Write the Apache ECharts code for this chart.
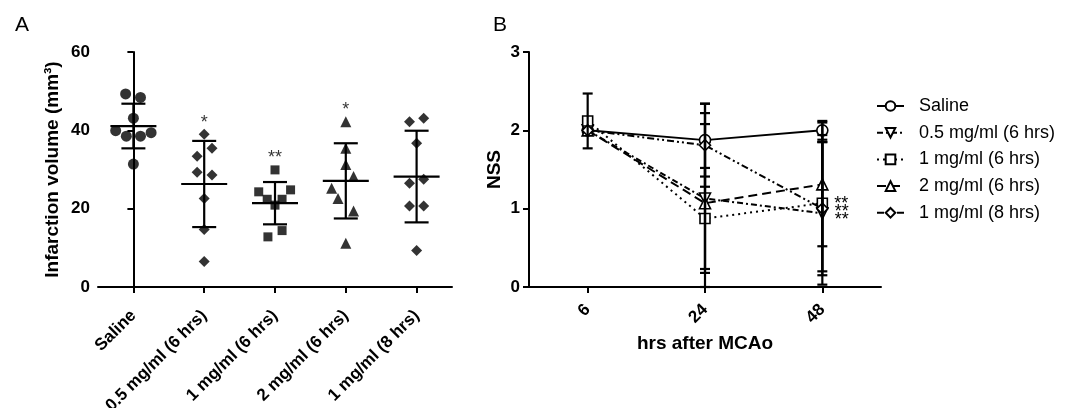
<!DOCTYPE html>
<html><head><meta charset="utf-8">
<script src="https://cdn.jsdelivr.net/npm/echarts@6/dist/echarts.min.js"></script>
<style>html,body{margin:0;padding:0;background:#fff}#c{width:1081px;height:408px}</style>
</head><body><div id="c"></div>
<script>
// ---------- Panel A data ----------
const groupsA = ['Saline', '0.5 mg/ml (6 hrs)', '1 mg/ml (6 hrs)', '2 mg/ml (6 hrs)', '1 mg/ml (8 hrs)'];
const volSaline = [49.3, 48.4, 43.1, 39.9, 38.5, 38.5, 39.4, 31.4];
const jitSaline = [-0.11, 0.1, 0, -0.25, -0.1, 0.1, 0.25, 0];
const vol05 = [39.0, 33.4, 35.4, 29.3, 28.6, 22.6, 14.7, 6.5];
const jit05 = [0, -0.1, 0.11, -0.1, 0.11, 0, 0, 0];
const vol1 = [29.9, 24.3, 24.8, 22.4, 22.4, 20.9, 12.8, 14.4];
const jit1 = [0, -0.23, 0.22, -0.11, 0.1, 0, -0.1, 0.1];
const vol2 = [42.2, 35.4, 31.3, 28.2, 25.2, 22.6, 19.4, 11.2];
const jit2 = [0, 0, 0, 0.11, -0.2, -0.11, 0.11, 0];
const vol8 = [42.2, 43.1, 36.7, 26.5, 27.5, 20.7, 20.7, 9.3];
const jit8 = [-0.1, 0.1, 0, -0.1, 0.1, -0.1, 0.1, 0];
const meanA = [41.1, 26.3, 21.4, 27.1, 28.2];
const sdA = [5.7, 11.0, 5.4, 9.6, 11.7];
const sigA = ['', '*', '**', '*', ''];
const yTicksA = [0, 20, 40, 60];

// ---------- Panel B data ----------
const timesB = ['6', '24', '48'];
const groupsB = ['Saline', '0.5 mg/ml (6 hrs)', '1 mg/ml (6 hrs)', '2 mg/ml (6 hrs)', '1 mg/ml (8 hrs)'];
const nssSaline = [2.0, 1.875, 2.0];
const sdSaline = [0, 0.465, 0.12];
const nss05 = [2.0, 1.13, 0.94];
const sd05 = [0, 0.95, 0.91];
const nss1 = [2.12, 0.875, 1.07];
const sd1 = [0.35, 0.645, 0.87];
const nss2 = [2.0, 1.07, 1.31];
const sd2 = [0, 1.15, 0.79];
const nss8 = [2.0, 1.81, 1.0];
const sd8 = [0, 0.53, 0.85];
const sigB05 = ['', '', '**'];
const sigB1 = ['', '', '**'];
const sigB8 = ['', '', '**'];
const yTicksB = [0, 1, 2, 3];

// ---------- build ----------
const FF = "'Liberation Sans', Arial, Helvetica, sans-serif";
const chart = echarts.init(document.getElementById('c'), null, {renderer: 'canvas'});

const volsA = [volSaline, vol05, vol1, vol2, vol8];
const jitsA = [jitSaline, jit05, jit1, jit2, jit8];
const symA = ['circle', 'diamond', 'rect', 'triangle', 'diamond'];
const symSizeA = [11, 11, 9, 11, 11];

const seriesA = volsA.map((vals, i) => ({
  type: 'scatter', xAxisIndex: 1, yAxisIndex: 0, z: 2,
  symbol: symA[i], symbolSize: symSizeA[i],
  itemStyle: {color: '#000'},
  silent: true,
  data: vals.map((v, k) => [i + jitsA[i][k], v])
}));

const errA = {
  type: 'custom', xAxisIndex: 1, yAxisIndex: 0, z: 4, silent: true,
  encode: {x: 0, y: 1},
  data: meanA.map((m, i) => [i, m, sdA[i]]),
  renderItem: function (params, api) {
    const x = api.value(0), m = api.value(1), s = api.value(2);
    const pm = api.coord([x, m]), pt = api.coord([x, m + s]), pb = api.coord([x, m - s]);
    const st = {stroke: '#000', lineWidth: 2.2};
    return {type: 'group', children: [
      {type: 'line', shape: {x1: pm[0] - 23, y1: pm[1], x2: pm[0] + 23, y2: pm[1]}, style: st},
      {type: 'line', shape: {x1: pt[0], y1: pt[1], x2: pb[0], y2: pb[1]}, style: st},
      {type: 'line', shape: {x1: pt[0] - 12, y1: pt[1], x2: pt[0] + 12, y2: pt[1]}, style: st},
      {type: 'line', shape: {x1: pb[0] - 12, y1: pb[1], x2: pb[0] + 12, y2: pb[1]}, style: st}
    ]};
  }
};

const sigSeriesA = {
  type: 'scatter', xAxisIndex: 1, yAxisIndex: 0, symbol: 'circle', symbolSize: 1, silent: true, z: 6,
  itemStyle: {color: 'rgba(0,0,0,0)'},
  data: volsA.map((vals, i) => [i, Math.max(...vals)]),
  label: {show: true, position: 'top', distance: 2, color: '#000', fontSize: 18, fontFamily: FF,
    formatter: p => sigA[p.dataIndex]}
};

// Panel B
const nssB = [nssSaline, nss05, nss1, nss2, nss8];
const sdB = [sdSaline, sd05, sd1, sd2, sd8];
const sigB = [null, sigB05, sigB1, null, sigB8];
const sigOff = [0, 7, 1, 0, 3];
const symB = ['circle', 'triangle', 'rect', 'triangle', 'diamond'];
const rotB = [0, 180, 0, 0, 0];
const sizeB = [11, 11, 10, 11, 11];
const dashB = ['solid', [6, 3, 2, 3], [2, 4], [9, 5], [7, 3, 2, 3, 2, 3]];

const seriesB = nssB.map((vals, i) => ({
  type: 'line', name: groupsB[i], xAxisIndex: 2, yAxisIndex: 1, z: 3 + i * 0.01,
  symbol: symB[i], symbolRotate: rotB[i], symbolSize: sizeB[i], showAllSymbol: true,
  itemStyle: {color: '#fff', borderColor: '#000', borderWidth: 1.6},
  lineStyle: {color: '#000', width: 2, type: dashB[i]},
  silent: true, animation: false,
  data: vals.map((v, k) => ({
    value: v,
    label: (sigB[i] && sigB[i][k]) ? {show: true, position: 'right', distance: 6, offset: [0, sigOff[i]],
      formatter: sigB[i][k], color: '#000', fontSize: 18, fontFamily: FF} : {show: false}
  }))
}));

const errBData = [];
nssB.forEach((vals, i) => vals.forEach((v, k) => { if (sdB[i][k] > 0) errBData.push([k, v, sdB[i][k]]); }));
const errB = {
  type: 'custom', xAxisIndex: 2, yAxisIndex: 1, z: 5, silent: true,
  encode: {x: 0, y: 1},
  data: errBData,
  renderItem: function (params, api) {
    const x = api.value(0), m = api.value(1), s = api.value(2);
    const pt = api.coord([x, m + s]), pb = api.coord([x, Math.max(0, m - s)]);
    const st = {stroke: '#000', lineWidth: 2.2};
    return {type: 'group', children: [
      {type: 'line', shape: {x1: pt[0], y1: pt[1], x2: pb[0], y2: pb[1]}, style: st},
      {type: 'line', shape: {x1: pt[0] - 5, y1: pt[1], x2: pt[0] + 5, y2: pt[1]}, style: st},
      {type: 'line', shape: {x1: pb[0] - 5, y1: pb[1], x2: pb[0] + 5, y2: pb[1]}, style: st}
    ]};
  }
};

const axisLineStyle = {show: true, lineStyle: {color: '#000', width: 2}};
const tickStyle = {show: true, length: 6, lineStyle: {color: '#000', width: 2}};
const labelBold = {color: '#000', fontSize: 17, fontWeight: 'bold', fontFamily: FF};

const option = {
  animation: false,
  backgroundColor: '#fff',
  title: [
    {text: 'A', left: 10, top: 10, textStyle: {fontSize: 21, fontWeight: 'normal', color: '#000', fontFamily: FF}},
    {text: 'B', left: 488, top: 10, textStyle: {fontSize: 21, fontWeight: 'normal', color: '#000', fontFamily: FF}}
  ],
  grid: [
    {left: 98, top: 52, width: 354, height: 235, containLabel: false, outerBoundsMode: 'none'},
    {left: 529, top: 52, width: 352, height: 235, containLabel: false, outerBoundsMode: 'none'}
  ],
  legend: {
    data: groupsB, orient: 'vertical', left: 871, top: 92,
    itemWidth: 27, itemHeight: 12, itemGap: 8.7,
    textStyle: {fontSize: 18, color: '#000', fontFamily: FF, padding: [0, 0, 0, 10]}
  },
  xAxis: [
    {type: 'category', gridIndex: 0, data: groupsA, boundaryGap: true,
      axisLine: axisLineStyle, axisTick: Object.assign({alignWithLabel: true}, tickStyle),
      axisLabel: Object.assign({rotate: 45, margin: 26, interval: 0}, labelBold),
      splitLine: {show: false}},
    {type: 'value', gridIndex: 0, min: -0.5, max: 4.5, show: false},
    {type: 'category', gridIndex: 1, data: timesB, boundaryGap: true,
      name: 'hrs after MCAo', nameLocation: 'middle', nameGap: 47,
      nameTextStyle: {color: '#000', fontSize: 19, fontWeight: 'bold', fontFamily: FF},
      axisLine: axisLineStyle, axisTick: Object.assign({alignWithLabel: true}, tickStyle),
      axisLabel: Object.assign({rotate: 45, margin: 20, interval: 0}, labelBold),
      splitLine: {show: false}}
  ],
  yAxis: [
    {type: 'value', gridIndex: 0, min: yTicksA[0], max: yTicksA[yTicksA.length - 1], interval: yTicksA[1] - yTicksA[0],
      name: 'Infarction volume (mm³)', nameLocation: 'middle', nameGap: 36,
      nameTextStyle: {color: '#000', fontSize: 19, fontWeight: 'bold', fontFamily: FF},
      axisLine: axisLineStyle, axisTick: tickStyle,
      axisLabel: Object.assign({margin: 8}, labelBold), splitLine: {show: false}},
    {type: 'value', gridIndex: 1, min: yTicksB[0], max: yTicksB[yTicksB.length - 1], interval: yTicksB[1] - yTicksB[0],
      name: 'NSS', nameLocation: 'middle', nameGap: 25,
      nameTextStyle: {color: '#000', fontSize: 19, fontWeight: 'bold', fontFamily: FF},
      axisLine: axisLineStyle, axisTick: tickStyle,
      axisLabel: Object.assign({margin: 9}, labelBold), splitLine: {show: false}}
  ],
  series: [].concat(seriesA, [errA, sigSeriesA], seriesB, [errB])
};
chart.setOption(option);
</script>
</body></html>
